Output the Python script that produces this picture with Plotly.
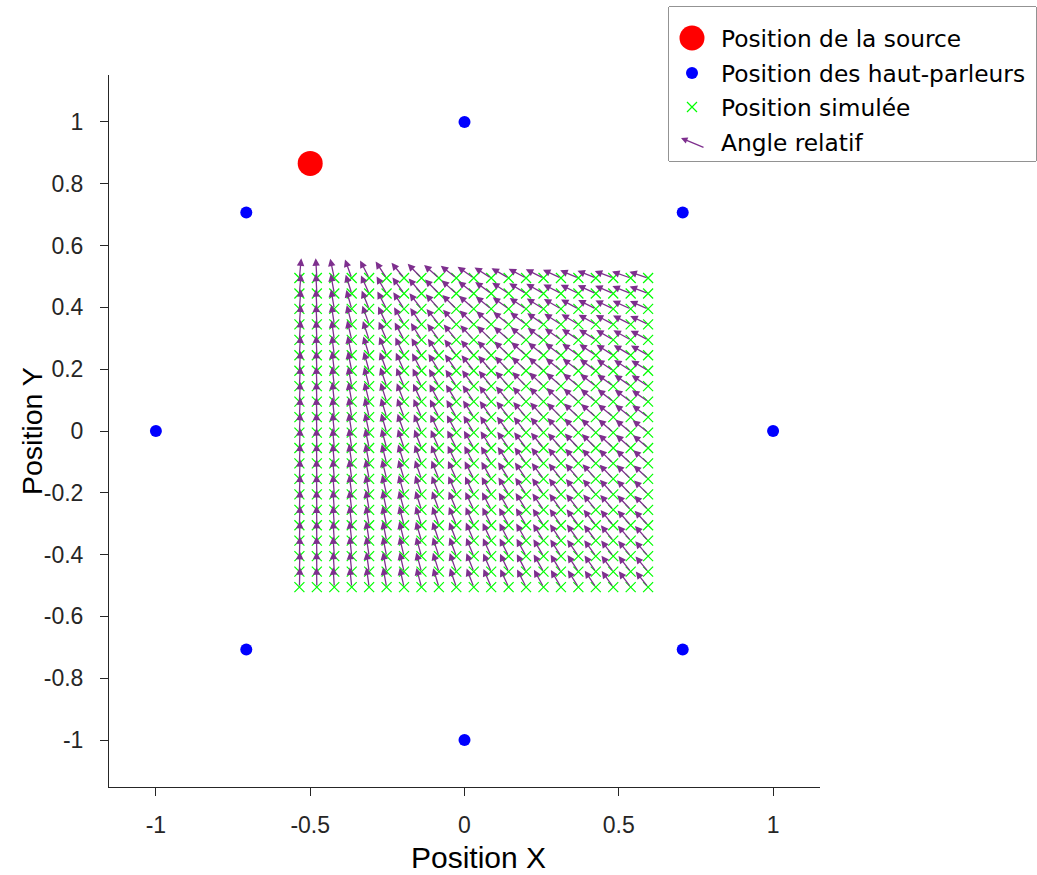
import math
import plotly.graph_objects as go

# ---------------- data ----------------
source_x = [-0.5]
source_y = [0.866]

speaker_x = [1.0, 0.7071, 0.0, -0.7071, -1.0, -0.7071, 0.0, 0.7071]
speaker_y = [0.0, 0.7071, 1.0, 0.7071, 0.0, -0.7071, -1.0, -0.7071]

grid_x = [-0.535, -0.4785, -0.422, -0.3655, -0.309, -0.2525, -0.196, -0.1395,
          -0.083, -0.0265, 0.03, 0.0865, 0.143, 0.1995, 0.256, 0.3125, 0.369,
          0.4255, 0.482, 0.5385, 0.595]
grid_y = [0.495, 0.445, 0.395, 0.345, 0.295, 0.245, 0.195, 0.145, 0.095, 0.045,
          -0.005, -0.055, -0.105, -0.155, -0.205, -0.255, -0.305, -0.355,
          -0.405, -0.455, -0.505]

x_tick_vals = [-1, -0.5, 0, 0.5, 1]
x_tick_text = ["-1", "-0.5", "0", "0.5", "1"]
y_tick_vals = [-1, -0.8, -0.6, -0.4, -0.2, 0, 0.2, 0.4, 0.6, 0.8, 1]
y_tick_text = ["-1", "-0.8", "-0.6", "-0.4", "-0.2", "0", "0.2", "0.4", "0.6", "0.8", "1"]

legend_labels = ["Position de la source", "Position des haut-parleurs",
                 "Position simulée", "Angle relatif"]

# ---------------- styling ----------------
W, H = 1037, 875
PURPLE = "#7E2F8E"
GREEN = "#00FF00"
AXC = "#262626"
arrow_len = 0.064

def px_x(p):
    return p / W

def px_y(p):
    return (H - p) / H

fig = go.Figure()

# simulated positions (grid)
sim_x, sim_y = [], []
for yv in grid_y:
    for xv in grid_x:
        sim_x.append(xv)
        sim_y.append(yv)

fig.add_trace(go.Scatter(x=sim_x, y=sim_y, mode="markers",
                         marker=dict(symbol="x-thin", size=10,
                                     line=dict(color=GREEN, width=1.2)),
                         hoverinfo="skip", showlegend=False))

fig.add_trace(go.Scatter(x=speaker_x, y=speaker_y, mode="markers",
                         marker=dict(symbol="circle", size=12, color="#0000FF"),
                         hoverinfo="skip", showlegend=False))

fig.add_trace(go.Scatter(x=source_x, y=source_y, mode="markers",
                         marker=dict(symbol="circle", size=25, color="#FF0000"),
                         hoverinfo="skip", showlegend=False))

annotations = []
# relative angle arrows: each points from the simulated position toward the source
for xv, yv in zip(sim_x, sim_y):
    dx = source_x[0] - xv
    dy = source_y[0] - yv
    n = math.hypot(dx, dy)
    hx = xv + arrow_len * dx / n
    hy = yv + arrow_len * dy / n
    annotations.append(dict(x=hx, y=hy, ax=xv, ay=yv, xref="x", yref="y",
                            axref="x", ayref="y", text="", showarrow=True,
                            arrowhead=2, arrowsize=1.15, arrowwidth=1.3,
                            arrowcolor=PURPLE, standoff=0, startstandoff=0))

# axis titles
annotations.append(dict(text="Position X", x=px_x(478), y=px_y(857), xref="paper",
                        yref="paper", showarrow=False, xanchor="center", yanchor="middle",
                        font=dict(family="Liberation Sans", size=30, color="#000000")))
annotations.append(dict(text="Position Y", x=px_x(32), y=px_y(431), xref="paper",
                        yref="paper", showarrow=False, xanchor="center", yanchor="middle",
                        textangle=-90,
                        font=dict(family="Liberation Sans", size=28.5, color="#000000")))

# ---------------- legend (drawn on an overlay axis in pixel units) ----------------
LX0, LY0, LX1, LY1 = 669, 7, 1036, 161
row_y = [31, 66, 100, 135]
sym_x = 23
fig.add_trace(go.Scatter(x=[sym_x], y=[row_y[0]], xaxis="x2", yaxis="y2", mode="markers",
                         marker=dict(symbol="circle", size=25, color="#FF0000"),
                         hoverinfo="skip", showlegend=False))
fig.add_trace(go.Scatter(x=[sym_x], y=[row_y[1]], xaxis="x2", yaxis="y2", mode="markers",
                         marker=dict(symbol="circle", size=12, color="#0000FF"),
                         hoverinfo="skip", showlegend=False))
fig.add_trace(go.Scatter(x=[sym_x], y=[row_y[2]], xaxis="x2", yaxis="y2", mode="markers",
                         marker=dict(symbol="x-thin", size=10,
                                     line=dict(color=GREEN, width=1.2)),
                         hoverinfo="skip", showlegend=False))
annotations.append(dict(x=12, y=row_y[3] - 4, ax=36, ay=row_y[3] + 6, xref="x2", yref="y2",
                        axref="x2", ayref="y2", text="", showarrow=True, arrowhead=2,
                        arrowsize=1.0, arrowwidth=1.3, arrowcolor=PURPLE,
                        standoff=0, startstandoff=0))
for lab, ry in zip(legend_labels, row_y):
    annotations.append(dict(text=lab, x=50, y=ry, xref="x2", yref="y2", showarrow=False,
                            xanchor="left", yanchor="middle",
                            font=dict(family="DejaVu Sans", size=23.3, color="#000000")))

shapes = [dict(type="rect", xref="paper", yref="paper",
               x0=px_x(LX0), x1=px_x(LX1), y0=px_y(LY1), y1=px_y(LY0),
               line=dict(color=AXC, width=1), fillcolor="white", layer="below")]

axis_common = dict(showgrid=False, zeroline=False, showline=True, linecolor=AXC,
                   linewidth=1, ticks="outside", ticklen=8, tickcolor=AXC, tickwidth=1,
                   tickfont=dict(family="Liberation Sans", size=23, color=AXC),
                   mirror=False)

fig.update_layout(
    width=W, height=H,
    margin=dict(l=0, r=0, t=0, b=0),
    paper_bgcolor="white", plot_bgcolor="white",
    showlegend=False,
    xaxis=dict(domain=[px_x(109), px_x(820)], range=[-1.152, 1.152],
               tickvals=x_tick_vals, ticktext=x_tick_text, ticklabelstandoff=9,
               **axis_common),
    yaxis=dict(domain=[px_y(787), px_y(75)], range=[-1.152, 1.152],
               tickvals=y_tick_vals, ticktext=y_tick_text, ticklabelstandoff=12,
               **axis_common),
    xaxis2=dict(domain=[px_x(LX0), px_x(LX1)], range=[0, LX1 - LX0], visible=False,
                fixedrange=True),
    yaxis2=dict(domain=[px_y(LY1), px_y(LY0)], range=[LY1 - LY0, 0], visible=False,
                fixedrange=True),
    annotations=annotations,
    shapes=shapes,
)

fig.write_html("out.html", config={"displayModeBar": False},
               post_script="document.body.style.margin='0';document.body.style.padding='0';")
